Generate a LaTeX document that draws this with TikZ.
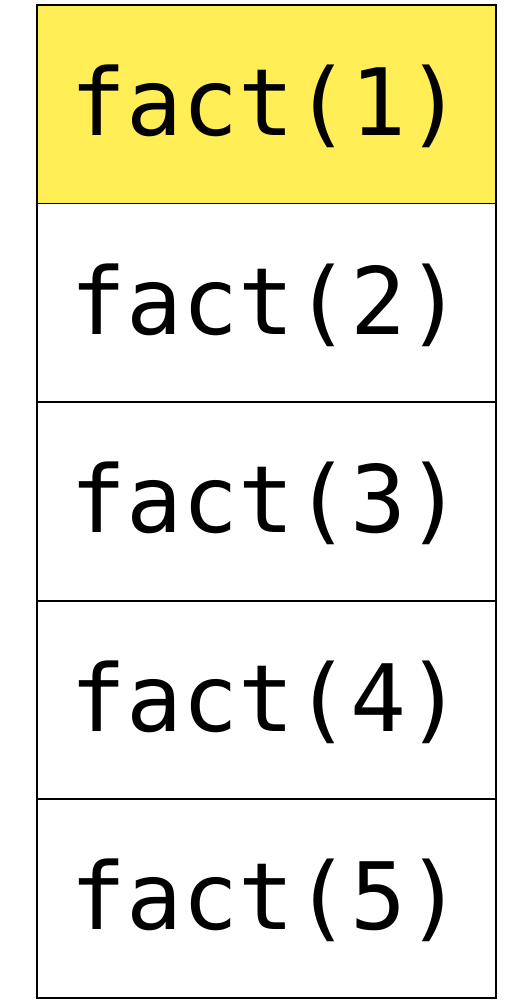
\documentclass[tikz,border=0pt]{standalone}
\usepackage{fontspec}
\setmonofont{DejaVu Sans Mono}
\definecolor{topyellow}{HTML}{FFEE55}
\tikzset{
  cell/.style={draw=none, fill=white, outer sep=0pt, minimum width=459pt, minimum height=198.6pt, inner sep=0pt, anchor=north west},
  border/.style={draw=black, line width=1.8pt},
  label/.style={font=\ttfamily\fontsize{93}{100}\selectfont, inner sep=0pt},
}
\begin{document}
\begin{tikzpicture}[x=1pt,y=1pt]
\useasboundingbox (0,0) rectangle (518,1003);
\node[cell, fill=topyellow] (c1) at (37,998) {};
\node[cell] (c2) at (c1.south west) {};
\node[cell] (c3) at (c2.south west) {};
\node[cell] (c4) at (c3.south west) {};
\node[cell] (c5) at (c4.south west) {};
\draw[border] (c1.north west) rectangle (c5.south east);
\foreach \i in {1,...,4} {
  \draw[border] (c\i.south west) -- (c\i.south east);
}
\foreach \i in {1,...,5} {
  \node[label] (t\i) at ([yshift=-2pt]c\i.center) {fact(\i)};
}
\end{tikzpicture}
\end{document}
